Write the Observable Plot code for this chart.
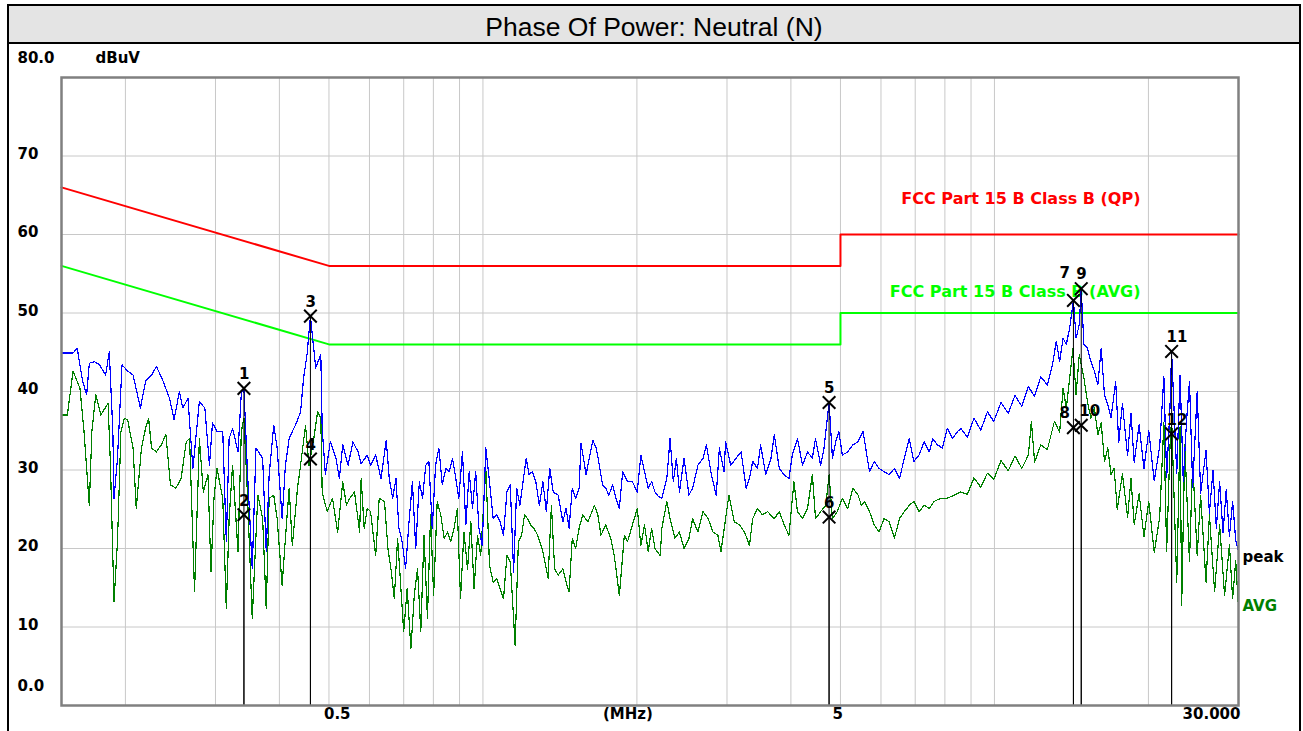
<!DOCTYPE html>
<html><head><meta charset="utf-8">
<script src="https://cdn.jsdelivr.net/npm/d3@7"></script>
<script src="https://cdn.jsdelivr.net/npm/@observablehq/plot@0.6"></script>
<style>
html,body{margin:0;padding:0;background:#fff;overflow:hidden;width:1303px;height:731px;}
#box{position:absolute;left:7px;top:4px;width:1290px;height:800px;border:2px solid #000;}
#title{height:36px;overflow:hidden;background:#e4e4e4;border-bottom:2px solid #000;font:26.5px "Liberation Sans",Arial,sans-serif;text-align:center;line-height:42px;color:#000;}
#chart{position:absolute;left:0;top:44px;}
</style></head><body>
<div id="box"><div id="title">Phase Of Power: Neutral (N)</div></div>
<div id="chart"></div>
<script>
// ---- data (MHz, dBuV) ----
const peakFreq = [0.150,0.158,0.161,0.165,0.168,0.170,0.174,0.178,0.183,0.186,0.189,0.190,0.193,0.197,0.202,0.207,0.214,0.219,0.225,0.230,0.237,0.244,0.249,0.255,0.259,0.265,0.271,0.279,0.286,0.292,0.296,0.302,0.310,0.315,0.319,0.324,0.332,0.337,0.341,0.346,0.354,0.360,0.371,0.377,0.382,0.390,0.396,0.405,0.411,0.418,0.424,0.430,0.440,0.446,0.453,0.460,0.471,0.482,0.485,0.492,0.503,0.516,0.524,0.532,0.545,0.557,0.570,
0.578,0.594,0.603,0.617,0.632,0.647,0.656,0.666,0.676,0.685,0.695,0.706,0.717,0.728,0.739,0.751,0.762,0.773,0.784,0.796,0.808,0.820,0.833,0.846,0.859,0.872,0.885,0.897,0.912,0.926,0.940,0.954,0.968,0.982,0.997,
1.013,1.030,1.047,1.064,1.080,1.097,1.114,1.131,1.148,1.164,1.181,1.198,1.215,1.231,1.249,1.269,1.289,1.310,1.330,1.351,1.372,1.403,1.433,1.454,1.474,1.495,1.518,1.542,1.555,1.591,1.640,1.665,1.689,1.713,1.738,1.763,1.792,1.820,1.848,1.876,1.918,1.960,
2.003,2.036,2.070,2.104,2.137,2.170,2.205,2.238,2.288,2.322,2.356,2.389,2.422,2.473,2.528,2.570,2.632,2.694,2.735,2.796,2.858,2.899,2.961,2.981,3.051,3.124,3.197,3.270,3.319,3.368,3.442,3.490,3.572,3.657,3.712,3.796,3.880,3.965,4.025,4.120,4.216,4.311,4.406,4.469,4.573,4.643,4.750,4.823,4.893,4.964,
5.042,5.165,5.289,5.412,5.536,5.617,5.699,5.822,5.946,6.082,6.228,6.374,6.520,6.667,6.813,6.959,7.121,7.290,7.458,7.572,7.741,7.909,8.088,8.280,8.471,8.598,8.854,9.119,9.404,9.689,9.970,
10.30,10.64,10.97,11.31,11.65,11.98,12.32,12.69,13.00,13.21,13.41,13.62,13.82,14.03,14.27,14.44,14.65,14.78,14.96,15.20,15.44,15.68,15.93,16.17,16.41,16.66,16.90,17.26,17.50,17.79,18.21,18.49,18.76,19.18,19.60,
20.03,20.53,21.04,21.44,21.71,22.04,22.20,22.72,23.06,23.40,23.73,24.06,24.41,24.91,25.30,25.92,26.32,26.75,27.15,27.56,27.98,28.39,28.80,29.22,29.63,30.0];
const peakVal = [44.9,44.9,45.5,41.3,39.6,43.6,43.8,43.4,42.1,45.1,34.9,26.4,31.5,43.4,42.6,42.1,37.9,41.3,42.1,43.2,41.3,39.1,36.4,40.0,37.9,39.1,30.2,38.7,37.9,30.6,36.0,34.9,34.9,20.9,34.0,35.3,32.3,39.8,40.4,30.6,17.4,32.8,31.5,19.6,29.4,35.7,32.8,23.8,30.6,34.0,34.9,35.7,37.4,41.7,44.7,49.6,43.0,44.7,35.3,29.4,33.6,31.5,28.9,33.2,30.6,33.6,32.3,
30.8,31.9,30.6,31.9,28.9,33.8,28.9,26.4,28.9,22.6,20.9,17.4,23.4,28.5,20.0,28.5,26.4,30.6,31.1,22.6,30.6,32.8,28.1,30.2,29.8,31.5,28.9,26.4,32.3,23.0,29.8,25.1,29.8,22.6,20.4,
32.8,28.5,23.8,24.3,23.4,21.7,27.2,28.1,17.0,27.7,25.5,28.5,31.5,29.4,29.8,28.5,25.5,28.5,24.7,30.2,27.2,26.8,23.4,25.1,22.6,27.7,26.4,27.7,33.4,29.4,33.8,32.8,30.6,28.1,27.7,26.8,28.1,26.4,25.1,29.8,28.5,28.5,
27.2,31.9,29.8,27.7,28.5,27.2,26.6,26.4,28.9,34.0,28.5,31.5,27.2,31.5,26.8,27.7,30.6,31.5,33.2,29.4,26.8,32.8,29.8,33.6,30.6,31.5,32.3,27.7,28.9,31.1,30.2,33.2,29.4,31.5,34.5,30.2,29.4,28.9,31.9,34.0,30.6,32.3,31.5,34.0,30.6,32.8,38.6,31.5,33.6,34.9,
31.9,32.3,33.2,33.6,34.9,32.3,29.8,31.1,30.2,29.8,29.4,30.2,28.9,31.5,34.0,31.1,31.9,33.6,32.3,34.0,33.2,32.8,35.3,34.0,34.9,35.3,34.2,36.6,35.1,37.4,36.2,
38.6,37.2,39.5,38.1,40.6,39.4,41.9,40.8,43.6,46.4,43.8,46.8,46.0,48.1,51.6,46.8,48.5,53.1,46.0,45.5,43.8,42.6,40.9,45.5,39.6,38.3,36.6,41.3,33.5,38.5,31.8,37.2,31.0,35.8,30.2,
35.0,28.6,33.0,41.9,29.0,38.0,45.1,29.5,42.1,28.5,36.0,41.3,27.8,40.0,27.0,32.5,24.5,30.0,22.6,28.5,22.0,27.5,21.5,26.0,21.0,19.6];

const avgFreq = [0.150,0.154,0.158,0.163,0.166,0.170,0.172,0.175,0.179,0.185,0.187,0.190,0.193,0.196,0.199,0.202,0.207,0.210,0.215,0.219,0.222,0.225,0.230,0.235,0.240,0.245,0.251,0.257,0.263,0.267,0.273,0.277,0.279,0.284,0.290,0.294,0.298,0.302,0.310,0.315,0.319,0.324,0.332,0.337,0.341,0.346,0.354,0.363,0.371,0.377,0.382,0.390,0.396,0.405,0.411,0.418,0.424,0.434,0.440,0.450,0.457,0.467,0.475,0.482,0.485,0.496,0.508,0.520,0.532,0.541,0.549,0.561,0.574,
0.578,0.586,0.594,0.603,0.617,0.627,0.642,0.652,0.661,0.671,0.681,0.690,0.700,0.711,0.723,0.734,0.745,0.756,0.767,0.779,0.790,0.801,0.814,0.827,0.840,0.853,0.865,0.878,0.891,0.904,0.918,0.933,0.947,0.961,0.976,0.990,
1.013,1.030,1.047,1.064,1.080,1.097,1.114,1.131,1.156,1.173,1.190,1.206,1.223,1.240,1.258,1.279,1.310,1.341,1.361,1.381,1.403,1.433,1.454,1.474,1.495,1.518,1.542,1.567,1.604,1.652,1.677,1.701,1.738,1.778,1.806,1.848,1.890,1.918,1.960,
2.003,2.036,2.070,2.104,2.137,2.170,2.221,2.238,2.288,2.322,2.372,2.422,2.473,2.528,2.570,2.632,2.694,2.756,2.817,2.879,2.920,2.981,3.026,3.099,3.173,3.246,3.319,3.368,3.442,3.517,3.601,3.712,3.796,3.880,3.965,4.055,4.120,4.216,4.311,4.406,4.469,4.573,4.680,4.750,4.823,4.929,
5.042,5.165,5.289,5.412,5.494,5.575,5.699,5.822,5.946,6.082,6.228,6.374,6.520,6.667,6.813,6.959,7.121,7.290,7.458,7.626,7.852,8.088,8.341,8.598,8.854,9.119,9.404,9.689,9.970,
10.30,10.64,10.97,11.31,11.65,11.81,11.98,12.32,12.69,13.10,13.41,13.62,13.82,14.03,14.24,14.44,14.65,14.96,15.20,15.44,15.68,15.93,16.17,16.41,16.66,16.90,17.14,17.38,17.79,18.21,18.49,18.76,19.18,19.60,
20.03,20.53,21.04,21.44,21.71,22.04,22.20,22.72,23.06,23.23,23.56,24.06,24.41,24.91,25.30,25.92,26.32,26.94,27.56,28.18,28.80,29.22,29.63,30.0];
const avgVal = [37.0,37.0,42.6,40.4,34.9,25.5,34.9,39.6,37.0,38.5,30.6,13.2,20.9,34.9,36.6,36.4,32.8,25.1,32.8,35.3,36.6,32.8,32.3,33.2,34.5,28.1,27.7,28.9,33.6,34.0,14.5,27.2,34.0,27.2,29.4,17.0,26.4,30.2,26.4,12.3,23.8,30.6,19.6,34.9,36.6,27.7,11.1,26.8,23.8,12.3,26.4,26.8,23.8,15.3,21.3,27.7,20.4,27.7,30.6,35.7,30.6,34.0,37.4,36.6,27.2,24.7,26.4,22.1,28.5,25.5,26.4,27.2,22.1,
28.9,22.6,25.1,24.7,19.1,26.4,26.0,20.0,17.4,13.6,21.3,15.7,9.4,14.9,7.2,14.0,17.4,9.4,21.7,11.1,24.3,14.0,26.0,24.3,21.3,22.1,20.9,22.6,25.1,13.6,22.1,17.4,23.4,14.9,21.7,19.1,
30.2,17.9,15.7,16.2,14.9,13.6,19.1,18.3,7.7,20.9,21.7,24.3,23.8,23.0,22.6,21.7,19.6,16.2,25.5,17.4,16.6,17.4,15.7,14.5,21.3,20.0,22.6,24.3,23.4,25.5,24.3,21.7,23.0,21.3,19.1,14.0,21.7,20.9,23.0,
25.1,20.4,23.0,19.6,22.6,20.0,19.1,22.6,26.0,23.8,21.3,22.1,20.0,21.3,23.8,22.1,24.7,23.8,22.1,21.7,19.6,23.8,26.8,23.4,23.0,22.1,20.4,23.8,25.1,24.3,24.7,23.8,24.7,23.0,21.7,28.5,24.7,23.8,25.1,29.4,23.8,24.7,25.5,29.4,23.8,24.7,
26.4,25.1,27.7,26.8,25.5,26.0,24.7,23.0,22.1,23.8,23.4,21.3,23.8,24.7,25.5,26.0,24.7,25.5,25.1,26.0,26.4,26.4,26.8,27.2,26.9,29.0,27.8,29.6,28.8,
31.2,29.9,31.8,30.2,31.9,36.2,31.0,33.2,32.6,36.2,34.8,40.4,37.9,41.7,45.5,39.6,44.7,41.7,38.7,36.6,37.9,34.5,36.0,31.1,32.8,29.4,30.2,25.0,29.5,24.0,28.9,23.0,27.0,21.5,
26.0,19.5,24.0,36.0,19.6,33.0,36.5,15.7,35.5,12.8,33.2,18.3,31.1,19.1,26.8,15.7,24.3,14.5,23.0,14.0,20.5,13.6,18.5,12.3];

// limit lines
const qpLimFreq = [0.15, 0.5, 5, 5, 30];
const qpLimVal = [66, 56, 56, 60, 60];
const avgLimFreq = [0.15, 0.5, 5, 5, 30];
const avgLimVal = [56, 46, 46, 50, 50];

// markers
const markerId = ["1","2","3","4","5","6","7","8","9","10","11","12"];
const markerFreq = [0.341,0.341,0.460,0.460,4.75,4.75,14.27,14.27,14.78,14.78,22.2,22.2];
const markerVal = [40.4,24.3,49.6,31.4,38.6,24.0,51.6,35.4,53.1,35.7,45.1,34.6];

// grid & tick labels
const gridFreq = [0.2,0.3,0.4,0.5,0.6,0.7,0.8,0.9,1,2,3,4,5,6,7,8,9,10,20];
const gridLevel = [10,20,30,40,50,60,70];
const yTickVal = [10,20,30,40,50,60,70];
const yTickText = ["10","20","30","40","50","60","70"];
const yEndVal = [0, 80];
const yEndText = ["0.0", "80.0"];

// ---- tables ----
const peak = peakFreq.map((f,i)=>({f, v: peakVal[i]}));
const avg = avgFreq.map((f,i)=>({f, v: avgVal[i]}));
const qp = qpLimFreq.map((f,i)=>({f, v: qpLimVal[i]}));
const avgLim = avgLimFreq.map((f,i)=>({f, v: avgLimVal[i]}));
const markers = markerId.map((id,i)=>({id, f: markerFreq[i], v: markerVal[i]}));
const yTicks = yTickVal.map((v,i)=>({v, t: yTickText[i]}));
const yEnds = yEndVal.map((v,i)=>({v, t: yEndText[i]}));

const F = "DejaVu Sans, sans-serif";
const bold = {fontFamily: F, fontWeight: "bold"};
const lbl = {x: "f", y: "v", text: "id", textAnchor: "start", fill: "#000", fontSize: 15, ...bold};

const chart = Plot.plot({
  width: 1303, height: 687,
  marginLeft: 61, marginRight: 65, marginTop: 33, marginBottom: 26,
  style: {background: "transparent", overflow: "visible"},
  x: {type: "log", domain: [0.15, 30], axis: null},
  y: {domain: [0, 80], axis: null},
  marks: [
    Plot.ruleY(gridLevel, {stroke: "#c8c8c8", strokeWidth: 1}),
    Plot.ruleX(gridFreq, {stroke: "#c8c8c8", strokeWidth: 1}),
    Plot.line(qp, {x: "f", y: "v", stroke: "#ff0000", strokeWidth: 2}),
    Plot.line(avgLim, {x: "f", y: "v", stroke: "#00ff00", strokeWidth: 2}),
    Plot.text(["FCC Part 15 B Class B (QP)"], {x: 19.3, y: 64.5, text: d => d, textAnchor: "end", fill: "#ff0000", fontSize: 16, ...bold}),
    Plot.text(["FCC Part 15 B Class B (AVG)"], {x: 19.3, y: 52.7, text: d => d, textAnchor: "end", fill: "#00ff00", fontSize: 16, ...bold}),
    Plot.line(avg, {x: "f", y: "v", stroke: "#008000", strokeWidth: 1.2, shapeRendering: "crispEdges"}),
    Plot.line(peak, {x: "f", y: "v", stroke: "#0000ff", strokeWidth: 1.2, shapeRendering: "crispEdges"}),
    Plot.ruleX(markers, {x: "f", y1: 0, y2: "v", stroke: "#000", strokeWidth: 1}),
    Plot.dot(markers, {x: "f", y: "v", symbol: "times", r: 5.8, stroke: "#000", strokeWidth: 2}),
    Plot.text(markers.filter(d => !["7","8","10"].includes(d.id)), {...lbl, dx: -5, dy: -14}),
    Plot.text(markers.filter(d => d.id === "7"), {...lbl, dx: -14, dy: -27}),
    Plot.text(markers.filter(d => d.id === "8"), {...lbl, dx: -14, dy: -14}),
    Plot.text(markers.filter(d => d.id === "10"), {...lbl, dx: -2, dy: -14}),
    Plot.frame({stroke: "#808080", strokeWidth: 2.5}),
    Plot.text(yTicks, {y: "v", text: "t", frameAnchor: "left", dx: -44, dy: -2, textAnchor: "start", fill: "#000", fontSize: 15, ...bold}),
    Plot.text(yEnds, {y: "v", text: "t", frameAnchor: "left", dx: -44, dy: -19, textAnchor: "start", fill: "#000", fontSize: 15, ...bold}),
    Plot.text(["dBuV"], {y: 80, text: d => d, frameAnchor: "left", dx: 34, dy: -19, textAnchor: "start", fill: "#000", fontSize: 15, ...bold}),
    Plot.text(["0.5"], {x: 0.5, text: d => d, frameAnchor: "bottom", dx: -5, dy: 13, textAnchor: "start", fill: "#000", fontSize: 15, ...bold}),
    Plot.text(["(MHz)"], {x: 1.92, text: d => d, frameAnchor: "bottom", dy: 13, fill: "#000", fontSize: 15, ...bold}),
    Plot.text(["5"], {x: 5, text: d => d, frameAnchor: "bottom", dx: -8, dy: 13, textAnchor: "start", fill: "#000", fontSize: 15, ...bold}),
    Plot.text(["30.000"], {x: 30, text: d => d, frameAnchor: "bottom", dx: 2, dy: 13, textAnchor: "end", fill: "#000", fontSize: 15, ...bold}),
    Plot.text(["peak"], {x: 30, y: 18.9, text: d => d, dx: 4, textAnchor: "start", fill: "#000", fontSize: 15, ...bold}),
    Plot.text(["AVG"], {x: 30, y: 12.7, text: d => d, dx: 4, textAnchor: "start", fill: "#008000", fontSize: 15, ...bold})
  ]
});
document.getElementById("chart").append(chart);
</script></body></html>
